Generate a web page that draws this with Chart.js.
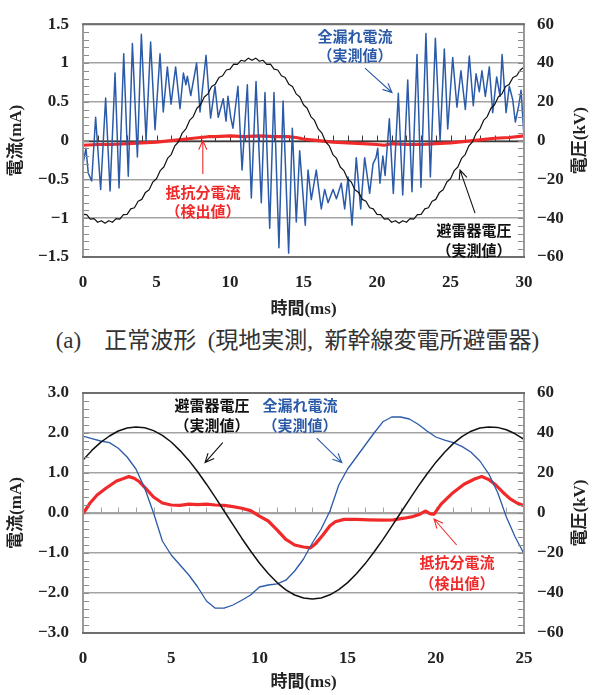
<!DOCTYPE html>
<html>
<head>
<meta charset="utf-8">
<script src="https://cdn.jsdelivr.net/npm/chart.js@4.4.1/dist/chart.umd.min.js"></script>
<style>
  html, body { margin: 0; padding: 0; background: #fff; }
  body { width: 595px; height: 695px; position: relative; overflow: hidden; }
  #chartA { position: absolute; left: 0; top: 0; }
  #chartB { position: absolute; left: 0; top: 345px; }
  #capA {
    position: absolute; left: 0; top: 321px; width: 595px;
    text-align: center; line-height: 30px; color: #333; white-space: nowrap;
    font: 23px 'Liberation Serif', 'Noto Sans CJK JP';
  }
</style>
</head>
<body>
<canvas id="chartA" width="595" height="320"></canvas>
<div id="capA">(a)&#x3000;正常波形&ensp;(現地実測,&ensp;新幹線変電所避雷器)</div>
<canvas id="chartB" width="595" height="350"></canvas>
<script>
// ---------- (a) field-measured normal waveform, 0-30 ms ----------
// total leakage current [mA] (time in ms)
const leakA_t = [0.00,0.20,0.36,0.59,0.86,1.20,1.54,1.84,2.18,2.45,2.77,3.08,3.36,3.70,3.97,4.29,4.60,4.90,5.24,5.46,
  5.74,5.99,6.30,6.60,6.83,7.00,7.10,7.33,7.73,7.96,8.37,8.68,8.98,9.20,9.54,9.73,
  9.86,10.05,10.20,10.54,10.82,11.18,11.45,11.77,12.13,12.38,12.70,12.99,13.33,13.61,13.99,14.24,14.51,14.74,
  15.12,15.31,15.53,15.87,16.21,16.44,16.67,17.01,17.24,17.57,17.80,18.03,18.30,18.59,18.89,19.16,19.50,19.73,
  19.93,20.05,20.20,20.40,20.55,20.84,21.11,21.45,21.75,22.09,22.38,22.72,22.99,23.33,23.63,23.97,24.29,24.58,
  24.81,25.15,25.44,25.71,26.01,26.28,26.55,26.74,26.96,27.14,27.37,27.64,27.87,28.14,28.37,28.51,28.78,29.00,
  29.23,29.41,29.64,29.80,29.95,30.00];
const leakA_mA = [-0.30,-0.10,-0.42,-0.52,0.30,-0.63,0.55,-0.65,0.87,-0.61,1.12,-0.46,1.25,-0.21,1.37,0.00,1.27,0.14,1.12,0.37,
  0.95,0.47,0.95,0.41,0.87,0.72,0.83,0.58,1.00,0.37,1.10,0.29,0.70,0.30,0.54,0.25,
  0.57,0.30,0.16,0.70,-0.38,0.72,-0.74,0.76,-0.80,0.62,-1.13,0.62,-1.38,0.51,-1.45,0.16,-1.05,-0.13,
  -1.09,-0.38,-0.76,-0.38,-0.88,-0.63,-0.80,-0.63,-0.75,-0.55,-0.88,-0.47,-1.09,-0.22,-0.88,-0.22,-0.68,-0.30,
  -0.22,-0.10,-0.55,-0.20,-0.45,0.28,-0.68,0.61,-0.70,0.78,-0.66,1.11,-0.60,1.38,-0.47,1.32,0.00,1.18,
  0.15,1.07,0.43,0.90,0.40,1.09,0.45,0.86,0.63,0.90,0.57,0.95,0.36,0.82,0.57,1.11,0.36,0.70,
  0.53,0.24,0.45,0.65,0.20,0.05];

// resistive current (detected) [mA]
const resA_t  = [0,1,2,3,4,5,6,7,7.5,8,8.5,9,10,11,12,13,14,14.5,15,16,17,18,19,20,20.5,21,22,23,24,25,26,27,28,29,30];
const resA_mA = [-0.06,-0.05,-0.05,-0.04,-0.03,-0.02,0.00,0.02,0.03,0.04,0.05,0.05,0.06,0.05,0.06,0.05,0.05,0.04,0.02,0.00,
  -0.02,-0.03,-0.04,-0.05,-0.06,-0.04,-0.05,-0.05,-0.04,-0.03,-0.01,0.01,0.03,0.04,0.06];

// arrester voltage [kV], sampled every 0.25 ms from 0 ms
const voltA_step = 0.25;
const voltA_kV = [-38.0,-38.2,-40.5,-40.2,-42.1,-41.3,-42.6,-41.3,-42.1,-40.2,-40.5,-38.2,-38.0,-35.2,-34.6,-31.3,-30.3,-26.7,-25.3,-21.3,
  -19.7,-15.5,-13.6,-9.2,-7.2,-2.7,-0.6,3.9,6.0,10.4,12.4,16.7,18.5,22.5,24.1,27.9,29.1,32.5,33.4,36.4,
  36.8,39.4,39.3,41.4,40.9,42.5,41.4,42.5,40.9,41.4,39.3,39.4,36.8,36.4,33.4,32.5,29.1,27.9,24.1,22.5,
  18.5,16.7,12.4,10.4,6.0,3.9,-0.6,-2.7,-7.2,-9.2,-13.6,-15.5,-19.7,-21.3,-25.3,-26.7,-30.3,-31.3,-34.6,-35.2,
  -38.0,-38.2,-40.5,-40.2,-42.1,-41.3,-42.6,-41.3,-42.1,-40.2,-40.5,-38.2,-38.0,-35.2,-34.6,-31.3,-30.3,-26.7,-25.3,-21.3,
  -19.7,-15.5,-13.6,-9.2,-7.2,-2.7,-0.6,3.9,6.0,10.4,12.4,16.7,18.5,22.5,24.1,27.9,29.1,32.5,33.4,36.4,37.8];

const xTicksA  = [0,5,10,15,20,25,30];
const xLabelsA = ['0','5','10','15','20','25','30'];
const yTicksA  = [-1.5,-1,-0.5,0,0.5,1,1.5];
const yLabelsA = ['−1.5','−1','−0.5','0','0.5','1','1.5'];

// ---------- lower chart, 0-25 ms ----------
const leakB_t  = [0,0.5,1,1.5,2,2.5,3,3.5,4,4.5,5,5.5,6,6.5,7,7.5,8,8.5,9,9.5,10,10.5,11,11.5,12,12.5,13,13.5,14,14.5,
  15,15.5,16,16.5,17,17.5,18,18.5,19,19.5,20,20.5,21,21.5,22,22.5,23,23.5,24,24.5,25];
const leakB_mA = [1.92,1.86,1.80,1.76,1.62,1.40,1.10,0.62,0.00,-0.70,-1.05,-1.30,-1.55,-1.85,-2.20,-2.38,-2.38,-2.30,-2.18,-2.05,
  -1.85,-1.80,-1.77,-1.68,-1.45,-1.15,-0.75,-0.40,0.05,0.70,1.10,1.40,1.70,2.00,2.28,2.40,2.40,2.35,2.22,2.05,
  1.90,1.82,1.76,1.66,1.52,1.30,0.98,0.52,-0.10,-0.60,-1.02];

const resB_t  = [0,0.4,0.8,1.3,1.9,2.3,2.6,2.9,3.2,3.5,4.0,4.5,5.0,5.5,6.0,6.5,7.0,7.5,8.0,8.5,9.0,9.5,10.0,10.5,11.0,11.5,
  12.0,12.5,12.9,13.2,13.6,14.0,14.3,14.8,15.5,16.2,17.0,17.6,18.2,18.7,19.1,19.4,19.7,19.9,20.3,20.9,21.6,22.2,22.6,23.0,
  23.4,23.8,24.2,24.6,25.0];
const resB_mA = [-0.02,0.25,0.45,0.62,0.80,0.86,0.91,0.87,0.78,0.64,0.40,0.25,0.20,0.19,0.22,0.21,0.22,0.20,0.19,0.16,0.12,0.06,
  -0.08,-0.20,-0.42,-0.66,-0.80,-0.85,-0.87,-0.76,-0.55,-0.32,-0.22,-0.16,-0.16,-0.17,-0.18,-0.17,-0.13,-0.09,-0.03,0.05,
  -0.02,-0.03,0.22,0.48,0.72,0.85,0.91,0.84,0.70,0.52,0.36,0.25,0.18];

// arrester voltage [kV], sampled every 0.5 ms from 0 ms
const voltB_step = 0.5;
const voltB_kV = [26.5,31.3,35.3,38.5,41.0,42.5,43.0,42.6,41.2,38.8,35.5,31.2,26.3,20.6,14.4,7.8,1.0,-5.8,-12.6,-19.0,
  -25.0,-30.3,-34.8,-38.4,-41.0,-42.5,-43.0,-42.5,-40.9,-38.3,-34.8,-30.4,-25.3,-19.5,-13.3,-6.7,0.0,6.7,13.3,19.5,
  25.3,30.4,34.8,38.3,40.9,42.5,43.0,42.8,41.6,39.6,36.8];

const xTicksB  = [0,5,10,15,20,25];
const xLabelsB = ['0','5','10','15','20','25'];
const yTicksB  = [-3,-2,-1,0,1,2,3];
const yLabelsB = ['−3.0','−2.0','−1.0','0.0','1.0','2.0','3.0'];

const y2Ticks  = [-60,-40,-20,0,20,40,60];
const y2Labels = ['−60','−40','−20','0','20','40','60'];

// ---------- styling ----------
const C_BLUE = '#2b5ba8', C_RED = '#f02a2a', C_BLACK = '#111111';
const TICK_FONT = { family: "'Liberation Serif'", size: 17, weight: 'bold' };
const TITLE_FONT = "bold 17px 'Liberation Serif', 'Noto Sans CJK JP'";
const NOTE_FONT = "bold 15px 'Noto Sans CJK JP'";

const pairs = (ts, vs) => ts.map((t, i) => ({ x: t, y: vs[i] }));
const sampled = (step, vs) => vs.map((v, i) => ({ x: i * step, y: v }));

function arrow(ctx, x0, y0, x1, y1, color) {
  const ang = Math.atan2(y1 - y0, x1 - x0), h = 10, s = 0.42;
  ctx.strokeStyle = color; ctx.lineWidth = 1.1;
  ctx.beginPath();
  ctx.moveTo(x0, y0); ctx.lineTo(x1, y1);
  ctx.moveTo(x1 - h * Math.cos(ang - s), y1 - h * Math.sin(ang - s));
  ctx.lineTo(x1, y1);
  ctx.lineTo(x1 - h * Math.cos(ang + s), y1 - h * Math.sin(ang + s));
  ctx.stroke();
}

// plot frame, zero axis with 1 ms ticks, minor y ticks, callouts and axis titles
const framePlugin = {
  id: 'frame',
  beforeDatasetsDraw(chart, args, o) {
    const { ctx, chartArea: a, scales: { x, y } } = chart;
    const y0 = Math.round(y.getPixelForValue(0)) + 0.5;
    ctx.save();
    ctx.strokeStyle = o.zeroColor; ctx.lineWidth = o.zeroWidth;
    ctx.beginPath(); ctx.moveTo(a.left, y0); ctx.lineTo(a.right, y0); ctx.stroke();
    ctx.lineWidth = 1;
    ctx.beginPath();
    for (let t = x.min; t <= x.max + 1e-9; t += o.xMinorStep) {
      const px = Math.round(x.getPixelForValue(t)) + 0.5;
      ctx.moveTo(px, y0); ctx.lineTo(px, y0 - 6);
    }
    ctx.stroke();
    ctx.restore();
  },
  afterDatasetsDraw(chart, args, o) {
    const { ctx, chartArea: a, scales: { x, y, y2 } } = chart;
    ctx.save();
    // minor ticks, inside the plot
    ctx.strokeStyle = '#8c8c8c'; ctx.lineWidth = 1;
    ctx.beginPath();
    for (let v = y.min; v <= y.max + 1e-9; v += o.yMinorStep) {
      const py = Math.round(y.getPixelForValue(v)) + 0.5;
      ctx.moveTo(a.left, py); ctx.lineTo(a.left + 6, py);
    }
    for (let v = y2.min; v <= y2.max + 1e-9; v += o.y2MinorStep) {
      const py = Math.round(y2.getPixelForValue(v)) + 0.5;
      ctx.moveTo(a.right - 6, py); ctx.lineTo(a.right, py);
    }
    ctx.stroke();
    // frame
    ctx.lineWidth = 2;
    ctx.strokeStyle = '#9a9a9a';
    ctx.beginPath();
    ctx.moveTo(a.left, a.top); ctx.lineTo(a.left, a.bottom);
    ctx.moveTo(a.right, a.top); ctx.lineTo(a.right, a.bottom);
    ctx.stroke();
    ctx.strokeStyle = '#6e6e6e';
    ctx.beginPath();
    ctx.moveTo(a.left - 1, a.top); ctx.lineTo(a.right + 1, a.top);
    ctx.moveTo(a.left - 1, a.bottom); ctx.lineTo(a.right + 1, a.bottom);
    ctx.stroke();
    // callouts
    ctx.font = NOTE_FONT; ctx.textAlign = 'center'; ctx.textBaseline = 'middle';
    for (const n of o.notes) {
      const px = x.getPixelForValue(n.t);
      ctx.fillStyle = n.color;
      n.lines.forEach((s, i) => ctx.fillText(s, px, y.getPixelForValue(n.v[i])));
      const [t0, v0, t1, v1] = n.arrow;
      arrow(ctx, x.getPixelForValue(t0), y.getPixelForValue(v0), x.getPixelForValue(t1), y.getPixelForValue(v1), n.color);
    }
    // axis titles
    const cy = (a.top + a.bottom) / 2;
    ctx.fillStyle = '#222'; ctx.font = TITLE_FONT;
    ctx.save(); ctx.translate(17, cy); ctx.rotate(-Math.PI / 2); ctx.fillText(o.yTitle, 0, 0); ctx.restore();
    ctx.save(); ctx.translate(581, cy); ctx.rotate(-Math.PI / 2); ctx.fillText(o.y2Title, 0, 0); ctx.restore();
    ctx.fillText(o.xTitle, (a.left + a.right) / 2, o.xTitleY);
    ctx.restore();
  }
};

function makeChart(id, cfg) {
  const fixedTicks = (vals) => (s) => { s.ticks = vals.map(v => ({ value: v })); };
  return new Chart(document.getElementById(id), {
    type: 'line',
    data: {
      datasets: [
        { label: '避雷器電圧', data: cfg.volt, yAxisID: 'y2', borderColor: C_BLACK, borderWidth: cfg.voltWidth, order: 0 },
        { label: '全漏れ電流', data: cfg.leak, yAxisID: 'y', borderColor: C_BLUE, borderWidth: cfg.leakWidth, order: 1 },
        { label: '抵抗分電流', data: cfg.res, yAxisID: 'y', borderColor: C_RED, borderWidth: 3.2, order: 2 }
      ]
    },
    options: {
      responsive: false, animation: false, devicePixelRatio: 1,
      elements: { point: { radius: 0 }, line: { tension: 0, borderJoinStyle: 'round' } },
      layout: { padding: { top: cfg.top, left: 0, right: 0, bottom: 0 } },
      plugins: {
        legend: { display: false }, tooltip: { enabled: false },
        frame: {
          zeroColor: cfg.zeroColor, zeroWidth: cfg.zeroWidth, xMinorStep: 1,
          yMinorStep: cfg.yMinor, y2MinorStep: 4, notes: cfg.notes,
          yTitle: '電流(mA)', y2Title: '電圧(kV)', xTitle: '時間(ms)', xTitleY: cfg.xTitleY
        }
      },
      scales: {
        x: {
          type: 'linear', min: cfg.xTicks[0], max: cfg.xTicks[cfg.xTicks.length - 1],
          afterBuildTicks: fixedTicks(cfg.xTicks),
          afterFit: (s) => { s.height = cfg.xHeight; },
          grid: { display: false, drawTicks: false }, border: { display: false },
          ticks: { font: TICK_FONT, color: '#222', padding: 15, maxRotation: 0, autoSkip: false,
                   callback: (v, i) => cfg.xLabels[i] }
        },
        y: {
          position: 'left', min: cfg.yTicks[0], max: cfg.yTicks[cfg.yTicks.length - 1],
          afterBuildTicks: fixedTicks(cfg.yTicks),
          afterFit: (s) => { s.width = 83; },
          grid: { color: '#a3a3a3', lineWidth: 1.5, drawTicks: false }, border: { display: false },
          ticks: { font: TICK_FONT, color: '#222', padding: 14, autoSkip: false,
                   callback: (v, i) => cfg.yLabels[i] }
        },
        y2: {
          position: 'right', min: -60, max: 60,
          afterBuildTicks: fixedTicks(y2Ticks),
          afterFit: (s) => { s.width = 71; },
          grid: { display: false, drawTicks: false }, border: { display: false },
          ticks: { font: TICK_FONT, color: '#222', padding: 13, autoSkip: false,
                   callback: (v, i) => y2Labels[i] }
        }
      }
    },
    plugins: [framePlugin]
  });
}

makeChart('chartA', {
  volt: sampled(voltA_step, voltA_kV), leak: pairs(leakA_t, leakA_mA), res: pairs(resA_t, resA_mA),
  voltWidth: 1.2, leakWidth: 1.5,
  xTicks: xTicksA, xLabels: xLabelsA, yTicks: yTicksA, yLabels: yLabelsA, yMinor: 0.1,
  top: 18, xHeight: 63, xTitleY: 310, zeroColor: '#3a3a3a', zeroWidth: 1.5,
  notes: [
    { lines: ['全漏れ電流', '（実測値）'], color: C_BLUE, t: 18.5, v: [1.35, 1.10], arrow: [19.18, 0.935, 21.02, 0.62] },
    { lines: ['抵抗分電流', '（検出値）'], color: C_RED, t: 8.16, v: [-0.66, -0.91], arrow: [8.15, -0.43, 8.15, 0.0] },
    { lines: ['避雷器電圧', '（実測値）'], color: C_BLACK, t: 26.6, v: [-1.16, -1.41], arrow: [26.67, -0.935, 25.65, -0.38] }
  ]
});

makeChart('chartB', {
  volt: sampled(voltB_step, voltB_kV), leak: pairs(leakB_t, leakB_mA), res: pairs(resB_t, resB_mA),
  voltWidth: 1.5, leakWidth: 1.3,
  xTicks: xTicksB, xLabels: xLabelsB, yTicks: yTicksB, yLabels: yLabelsB, yMinor: 0.2,
  top: 48, xHeight: 62, xTitleY: 338, zeroColor: '#a3a3a3', zeroWidth: 1.5,
  notes: [
    { lines: ['避雷器電圧', '（実測値）'], color: C_BLACK, t: 7.31, v: [2.7, 2.2], arrow: [7.92, 1.76, 6.92, 1.26] },
    { lines: ['全漏れ電流', '（実測値）'], color: C_BLUE, t: 12.3, v: [2.7, 2.2], arrow: [13.25, 1.87, 14.67, 1.26] },
    { lines: ['抵抗分電流', '（検出値）'], color: C_RED, t: 21.2, v: [-1.24, -1.76], arrow: [21.18, -0.8, 19.9, -0.15] }
  ]
});
</script>
</body>
</html>
